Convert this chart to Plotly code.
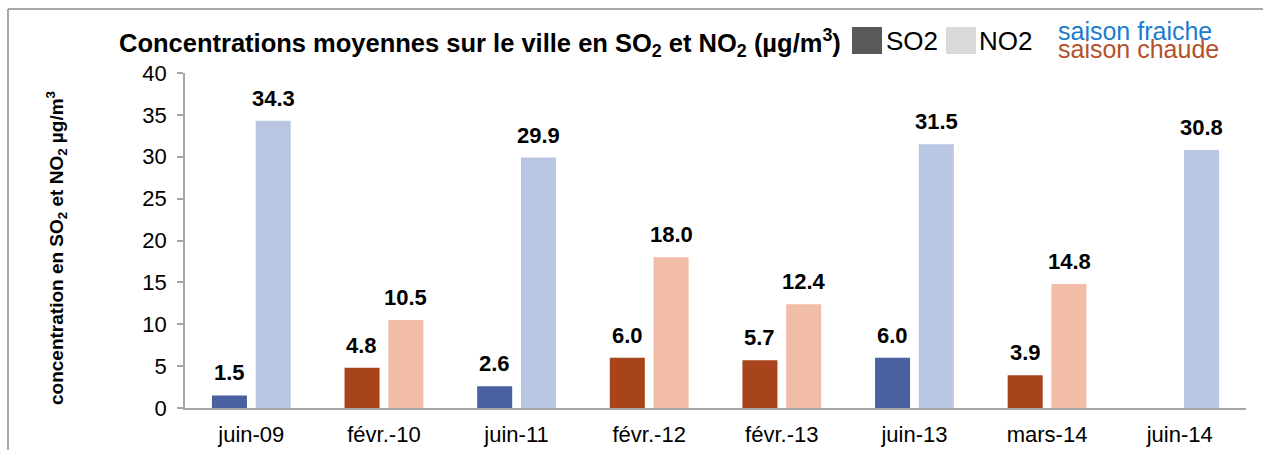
import plotly.graph_objects as go

# Mean concentrations over the city, per measurement campaign
categories = ["juin-09", "févr.-10", "juin-11", "févr.-12", "févr.-13", "juin-13", "mars-14", "juin-14"]
so2 = [1.5, 4.8, 2.6, 6.0, 5.7, 6.0, 3.9, None]
no2 = [34.3, 10.5, 29.9, 18.0, 12.4, 31.5, 14.8, 30.8]
season = ["fraiche", "chaude", "fraiche", "chaude", "chaude", "fraiche", "chaude", "fraiche"]

so2_colors = {"fraiche": "#4961A0", "chaude": "#A7441C"}
no2_colors = {"fraiche": "#B8C6E1", "chaude": "#F2BDA7"}

FONT = "Liberation Sans, Arial, sans-serif"

fig = go.Figure()
fig.add_trace(go.Bar(
    x=categories, y=so2, name="SO2",
    marker=dict(color=[so2_colors[s] for s in season], line=dict(width=0)),
))
fig.add_trace(go.Bar(
    x=categories, y=no2, name="NO2",
    marker=dict(color=[no2_colors[s] for s in season], line=dict(width=0)),
))

annotations = []
# value labels above each bar
for i, cat in enumerate(categories):
    for trace_idx, vals in enumerate((so2, no2)):
        v = vals[i]
        if v is None:
            continue
        annotations.append(dict(
            x=cat, y=v, xref="x", yref="y",
            text=f"<b>{v:.1f}</b>", showarrow=False,
            xshift=-22 if trace_idx == 0 else 22,
            yanchor="bottom", yshift=8,
            font=dict(family=FONT, size=22, color="#000000"),
        ))

# plot area geometry (pixels) used to place paper-referenced items
X0, W = 185, 1061
Y_BOTTOM, H = 408, 335


def px(x):
    return (x - X0) / W


def py(y):
    return (Y_BOTTOM - y) / H


annotations += [
    dict(x=px(117), y=py(43), xref="paper", yref="paper", xanchor="left", yanchor="middle",
         text="<b>Concentrations moyennes sur le ville en SO<sub>2</sub> et NO<sub>2</sub> (µg/m<sup>3</sup>)</b>",
         showarrow=False, font=dict(family=FONT, size=25.5, color="#000000")),
    dict(x=px(884), y=py(41), xref="paper", yref="paper", xanchor="left", yanchor="middle",
         text="SO2", showarrow=False, font=dict(family=FONT, size=26, color="#000000")),
    dict(x=px(977), y=py(41), xref="paper", yref="paper", xanchor="left", yanchor="middle",
         text="NO2", showarrow=False, font=dict(family=FONT, size=26, color="#000000")),
    dict(x=px(1056), y=py(31), xref="paper", yref="paper", xanchor="left", yanchor="middle",
         text="saison fraiche", showarrow=False, font=dict(family=FONT, size=25, color="#1B7BCF")),
    dict(x=px(1056), y=py(49), xref="paper", yref="paper", xanchor="left", yanchor="middle",
         text="saison chaude", showarrow=False, font=dict(family=FONT, size=25, color="#B5512A")),
    dict(x=px(57), y=py(248), xref="paper", yref="paper", xanchor="center", yanchor="middle",
         textangle=-90,
         text="<b>concentration en SO<sub>2</sub> et NO<sub>2</sub> µg/m<sup>3</sup></b>",
         showarrow=False, font=dict(family=FONT, size=19, color="#000000")),
]

shapes = [
    # legend swatches
    dict(type="rect", xref="paper", yref="paper", x0=px(852), x1=px(882), y0=py(54), y1=py(27),
         fillcolor="#595959", line=dict(width=0)),
    dict(type="rect", xref="paper", yref="paper", x0=px(946), x1=px(976), y0=py(54), y1=py(27),
         fillcolor="#D9D9D9", line=dict(width=0)),
    # chart frame
    dict(type="line", xref="paper", yref="paper", x0=px(8), x1=px(1270), y0=py(9), y1=py(9),
         line=dict(color="#8C8C8C", width=1.5)),
    dict(type="line", xref="paper", yref="paper", x0=px(8), x1=px(8), y0=py(9), y1=py(460),
         line=dict(color="#8C8C8C", width=1.5)),
]

fig.update_layout(
    width=1263, height=450,
    margin=dict(l=X0, r=1263 - X0 - W, t=Y_BOTTOM - H, b=450 - Y_BOTTOM),
    paper_bgcolor="white", plot_bgcolor="white",
    barmode="group", bargap=0.34, bargroupgap=0.2,
    showlegend=False,
    annotations=annotations, shapes=shapes,
    font=dict(family=FONT, color="#000000"),
)
fig.update_xaxes(
    automargin=False,
    showline=True, linecolor="#A6A6A6", linewidth=1.5,
    ticks="", ticklabelstandoff=6,
    tickfont=dict(family=FONT, size=22, color="#000000"),
    showgrid=False,
)
fig.update_yaxes(
    automargin=False,
    range=[0, 40], tickvals=[0, 5, 10, 15, 20, 25, 30, 35, 40],
    showline=True, linecolor="#A6A6A6", linewidth=1.5,
    ticks="outside", ticklen=6, tickcolor="#A6A6A6", tickwidth=1.5,
    ticklabelstandoff=6,
    tickfont=dict(family=FONT, size=22, color="#000000"),
    showgrid=False, zeroline=False,
)

fig.write_html("out.html")
